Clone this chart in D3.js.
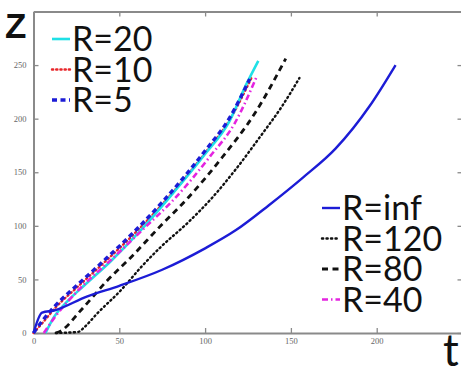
<!DOCTYPE html>
<html>
<head>
<meta charset="utf-8">
<script src="https://cdn.jsdelivr.net/npm/d3@7"></script>
<style>
  body { margin: 0; background: #fff; }
  svg { display: block; }
</style>
</head>
<body>
<div id="chart"></div>
<script>
// Curves: t (x) and Z (y) for each R
var tInf = [0, 5, 12, 31, 50, 75, 100, 118, 137, 157, 176, 196, 211];
var zInf = [0, 19, 21, 34, 44, 59, 79, 96, 119, 145, 172, 212, 250];

var t120 = [13, 26, 30, 37, 51, 63, 74, 90, 104, 118, 132, 145, 155];
var z120 = [0, 1, 6, 18, 40, 62, 80, 103, 126, 153, 183, 212, 238];

var t80 = [13, 16, 27.5, 43, 57, 73.5, 90, 110, 129, 147];
var z80 = [0, 2, 21, 49, 71, 99, 126, 164, 205, 256];

var t40 = [6, 13, 25, 47, 64, 82, 103, 117, 130];
var z40 = [0, 16, 38, 71, 97, 125, 165, 195, 239];

var t20 = [7, 12, 20, 30, 45, 62, 80, 100, 114, 124, 131];
var z20 = [0, 15, 30, 45, 67, 95, 128, 167, 197, 232, 254];

var t10 = [0, 5, 13, 25, 40, 59, 75, 88, 100, 114, 127];
var z10 = [0, 9, 24, 42, 64, 93, 120, 144, 168, 198, 238];

var t5 = [0, 5, 13, 25, 40, 59, 75, 88, 100, 114, 126];
var z5 = [0, 11, 26, 44, 66, 95, 122, 146, 170, 200, 237];

var xTicks = [0, 50, 100, 150, 200];
var yTicks = [0, 50, 100, 150, 200, 250];

var legendTop = ["R=20", "R=10", "R=5"];
var legendBottom = ["R=inf", "R=120", "R=80", "R=40"];

var width = 461, height = 366;

var svg = d3.select("#chart")
  .append("svg")
  .attr("width", width)
  .attr("height", height);

var x = d3.scaleLinear().domain([0, 250]).range([33.5, 462.5]);
var y = d3.scaleLinear().domain([0, 300]).range([333, 11.5]);

// box with inward ticks on all four sides (matlab style)
var axisColor = "#8a8a8a";
function styleAxis(g) {
  g.select(".domain").attr("stroke", axisColor).attr("stroke-width", 2);
  g.selectAll(".tick line").attr("stroke", axisColor).attr("stroke-width", 1.3);
  g.selectAll(".tick text")
    .attr("fill", "#666")
    .style("font-family", "'Liberation Serif', serif")
    .style("font-size", "8.5px");
}

svg.append("g")
  .attr("transform", `translate(0, ${y(0)})`)
  .call(d3.axisBottom(x).tickValues(xTicks).tickSizeInner(-5).tickSizeOuter(0).tickPadding(5))
  .call(styleAxis);

svg.append("g")
  .attr("transform", `translate(0, ${y(300)})`)
  .call(d3.axisTop(x).tickValues(xTicks).tickSizeInner(-5).tickSizeOuter(0).tickFormat(""))
  .call(styleAxis);

svg.append("g")
  .attr("transform", `translate(${x(0)}, 0)`)
  .call(d3.axisLeft(y).tickValues(yTicks).tickSizeInner(-5).tickSizeOuter(0).tickPadding(7))
  .call(styleAxis);

svg.append("g")
  .attr("transform", `translate(${x(250)}, 0)`)
  .call(d3.axisRight(y).tickValues(yTicks).tickSizeInner(-5).tickSizeOuter(0).tickFormat(""))
  .call(styleAxis);

var series = [
  { label: "R=10", t: t10, z: z10, color: "#e8262a", dash: "1.2,3", width: 2.4, cap: "round" },
  { label: "R=20", t: t20, z: z20, color: "#1fe0e6", dash: null, width: 2.6, cap: "butt" },
  { label: "R=40", t: t40, z: z40, color: "#e424e0", dash: "6,3,1.5,3", width: 2.6, cap: "butt" },
  { label: "R=5", t: t5, z: z5, color: "#1c1cd6", dash: "5,3.5", width: 3.4, cap: "butt" },
  { label: "R=120", t: t120, z: z120, color: "#111", dash: "1.2,3.3", width: 2.4, cap: "round" },
  { label: "R=80", t: t80, z: z80, color: "#111", dash: "6,4.5", width: 2.8, cap: "butt" },
  { label: "R=inf", t: tInf, z: zInf, color: "#1c1cd6", dash: null, width: 2.4, cap: "butt" }
];

var line = d3.line()
  .x(d => x(d[0]))
  .y(d => y(d[1]))
  .curve(d3.curveMonotoneX);

series.forEach(function (s) {
  svg.append("path")
    .datum(d3.zip(s.t, s.z))
    .attr("fill", "none")
    .attr("stroke", s.color)
    .attr("stroke-width", s.width)
    .attr("stroke-dasharray", s.dash)
    .attr("stroke-linecap", s.cap)
    .attr("d", line);
});

// legends
var byLabel = {};
series.forEach(s => byLabel[s.label] = s);

function drawLegend(labels, lx, baseline) {
  labels.forEach(function (lab, i) {
    var s = byLabel[lab];
    var by = baseline + i * 30.5;
    svg.append("line")
      .attr("x1", lx).attr("x2", lx + 18)
      .attr("y1", by - 12).attr("y2", by - 12)
      .attr("stroke", s.color)
      .attr("stroke-width", s.width)
      .attr("stroke-dasharray", s.dash)
      .attr("stroke-linecap", s.cap);
    svg.append("text")
      .attr("x", lx + 20)
      .attr("y", by)
      .style("font-family", "Lato, sans-serif")
      .style("font-size", "34px")
      .attr("fill", "#111")
      .text(lab);
  });
}

drawLegend(legendTop, 52, 51);
drawLegend(legendBottom, 322, 220);

// axis names
svg.append("text")
  .attr("x", 5).attr("y", 38)
  .style("font-family", "'Liberation Sans', sans-serif")
  .style("font-weight", "bold")
  .style("font-size", "35px")
  .attr("fill", "#111")
  .text("Z");

svg.append("text")
  .attr("x", 443).attr("y", 366)
  .style("font-family", "Lato, sans-serif")
  .style("font-size", "44px")
  .attr("fill", "#111")
  .text("t");
</script>
</body>
</html>
